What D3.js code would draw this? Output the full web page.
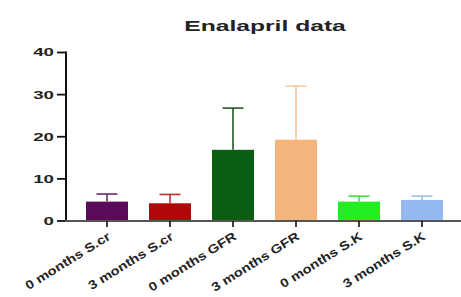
<!DOCTYPE html>
<html>
<head>
<meta charset="utf-8">
<script src="https://cdn.jsdelivr.net/npm/d3@7"></script>
<style>
  body { margin: 0; background: #fff; }
  svg { display: block; font-family: "Liberation Sans", Arial, sans-serif; font-weight: bold; }
</style>
</head>
<body>
<div id="root"></div>
<script>
// data
const groups = ["0 months S.cr", "3 months S.cr", "0 months GFR", "3 months GFR", "0 months S.K", "3 months S.K"];
const means = [4.6, 4.2, 16.9, 19.3, 4.6, 5.0];
const sd = [1.8, 2.1, 9.9, 12.7, 1.3, 0.9];
const colors = ["#5c0a5a", "#b00808", "#0a5e12", "#f3b57c", "#22ee22", "#93b9ee"];
const capColors = ["#6b2a66", "#b83030", "#1f5a25", "#f6caa0", "#40e040", "#9ec0ee"];
const yTicks = [0, 10, 20, 30, 40];

const width = 461, height = 297;
const sx = 1.7; // the picture's text is stretched sideways

const svg = d3.select("#root").append("svg")
  .attr("width", width)
  .attr("height", height);

const x = d3.scaleBand()
  .domain(groups)
  .range([65, 464])
  .paddingInner(1 / 3)
  .paddingOuter(1 / 3);

const y = d3.scaleLinear()
  .domain([0, 40])
  .range([221, 52.5]);

// title
svg.append("g")
  .attr("transform", `translate(265, 31) scale(${sx},1)`)
  .append("text")
  .attr("text-anchor", "middle")
  .attr("font-size", 14.5)
  .attr("fill", "#222")
  .text("Enalapril data");

// bars
svg.append("g")
  .selectAll("rect")
  .data(groups)
  .join("rect")
  .attr("x", d => x(d))
  .attr("y", (d, i) => y(means[i]))
  .attr("width", x.bandwidth())
  .attr("height", (d, i) => y(0) - y(means[i]))
  .attr("fill", (d, i) => colors[i]);

// error bars (upper only)
const err = svg.append("g")
  .selectAll("g")
  .data(groups)
  .join("g")
  .attr("stroke", (d, i) => capColors[i])
  .attr("stroke-width", 1.6);

err.append("line")
  .attr("x1", d => x(d) + x.bandwidth() / 2)
  .attr("x2", d => x(d) + x.bandwidth() / 2)
  .attr("y1", (d, i) => y(means[i]))
  .attr("y2", (d, i) => y(means[i] + sd[i]));

err.append("line")
  .attr("x1", d => x(d) + x.bandwidth() / 4)
  .attr("x2", d => x(d) + x.bandwidth() * 3 / 4)
  .attr("y1", (d, i) => y(means[i] + sd[i]))
  .attr("y2", (d, i) => y(means[i] + sd[i]));

// y axis
const yAxis = svg.append("g");
yAxis.append("line")
  .attr("x1", 66).attr("x2", 66)
  .attr("y1", y(40) - 1).attr("y2", y(0))
  .attr("stroke", "#111").attr("stroke-width", 2);

yAxis.selectAll(".tick")
  .data(yTicks)
  .join("line")
  .attr("x1", 57).attr("x2", 66)
  .attr("y1", d => y(d)).attr("y2", d => y(d))
  .attr("stroke", "#111").attr("stroke-width", 1.8);

yAxis.selectAll("g.lab")
  .data(yTicks)
  .join("g")
  .attr("class", "lab")
  .attr("transform", d => `translate(54, ${y(d)}) scale(${sx},1)`)
  .append("text")
  .attr("text-anchor", "end")
  .attr("dy", "0.36em")
  .attr("font-size", 11)
  .attr("fill", "#222")
  .text(d => d);

// x axis
const xAxis = svg.append("g");
xAxis.append("line")
  .attr("x1", 65).attr("x2", 461)
  .attr("y1", y(0)).attr("y2", y(0))
  .attr("stroke", "#555").attr("stroke-width", 2);

xAxis.selectAll(".tick")
  .data(groups)
  .join("line")
  .attr("x1", d => x(d) + x.bandwidth() / 2)
  .attr("x2", d => x(d) + x.bandwidth() / 2)
  .attr("y1", y(0)).attr("y2", y(0) + 6)
  .attr("stroke", "#111").attr("stroke-width", 1.6);

xAxis.selectAll("g.lab")
  .data(groups)
  .join("g")
  .attr("class", "lab")
  .attr("transform", d => `translate(${x(d) + x.bandwidth() / 2 + 2}, 235) rotate(-32) scale(1.2,1)`)
  .append("text")
  .attr("text-anchor", "end")
  .attr("dy", "0.35em")
  .attr("font-size", 12.3)
  .attr("fill", "#222")
  .text(d => d);
</script>
</body>
</html>
